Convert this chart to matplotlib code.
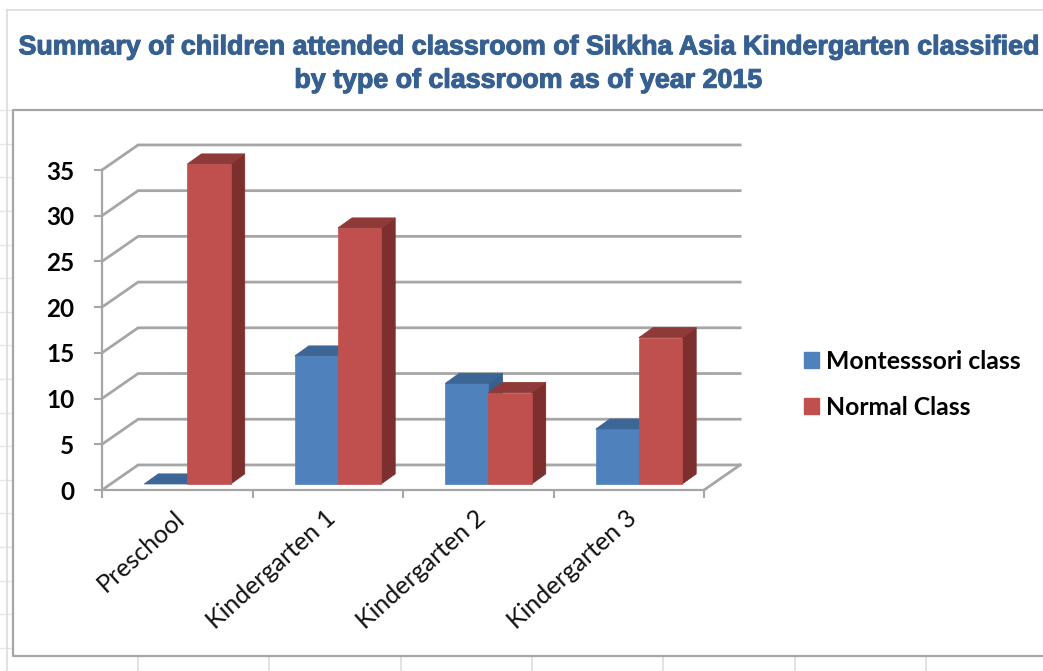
import matplotlib
matplotlib.use("Agg")
import matplotlib.pyplot as plt
import matplotlib.patheffects as pe
from matplotlib.patches import Polygon, Patch
from matplotlib.transforms import ScaledTranslation

categories = ["Preschool", "Kindergarten 1", "Kindergarten 2", "Kindergarten 3"]
montessori = [0, 14, 11, 6]
normal = [35, 28, 10, 16]
y_ticks = [0, 5, 10, 15, 20, 25, 30, 35]
title = ("Summary of children attended classroom of Sikkha Asia Kindergarten classified\n"
         "by type of classroom as of year 2015")

W, H = 1043, 671
GREY = "#a6a6a6"

fig = plt.figure(figsize=(W / 100, H / 100), dpi=100, facecolor="white")

# page furniture (screenshot frame + faint spreadsheet cells), in pixels
bg = fig.add_axes([0, 0, 1, 1])
bg.set_xlim(0, W)
bg.set_ylim(H, 0)
bg.axis("off")
for y in [110, 144, 177, 211, 245, 278, 312, 345, 379, 413, 446, 480, 513, 547, 581, 614, 648]:
    bg.plot([0, 13], [y, y], color="#e6e6e6", lw=1)
for x in [138, 269, 401, 532, 663, 795, 926]:
    bg.plot([x, x], [656, H], color="#dddddd", lw=1.2)
bg.plot([7, 7], [H, 10], color="#dcdcdc", lw=1.2)
bg.plot([7, W], [10, 10], color="#dcdcdc", lw=1.2)
bg.plot([W, 13, 13, W], [110, 110, 656, 656], color=GREY, lw=1.6)

# plot area = front plane of the 3D box
ax = fig.add_axes([102 / W, 1 - 490 / H, 602 / W, 320 / H])
ax.set_xlim(0, 4)
ax.set_ylim(0, 35)
ax.patch.set_alpha(0)

dx, dy = 0.24, 2.74      # depth of the box
bx, by = 0.0931, 1.1     # depth of a bar
off_x, off_y = 0.068, 0.66   # bars sit inside the box
bar_w = 0.287


def draw_bar(left, value, front, top, side, z):
    x0, x1 = left, left + bar_w
    y0, y1 = off_y, off_y + value
    if value > 0:
        ax.bar(x0, value, width=bar_w, bottom=y0, align="edge", color=front, edgecolor=front, lw=0.5,
               zorder=z + 0.2, clip_on=False)
        ax.add_patch(Polygon([(x1, y0), (x1 + bx, y0 + by), (x1 + bx, y1 + by), (x1, y1)],
                             fc=side, ec=side, lw=0.6, zorder=z + 0.1, clip_on=False))
    ax.add_patch(Polygon([(x0, y1), (x0 + bx, y1 + by), (x1 + bx, y1 + by), (x1, y1)],
                         fc=top, ec=top, lw=0.6, zorder=z + 0.3, clip_on=False))


# walls and floor
for v in y_ticks:
    ax.plot([0, dx, 4 + dx], [v, v + dy, v + dy], color=GREY, lw=2, zorder=1, clip_on=False, solid_joinstyle="miter")
ax.plot([4, 4 + dx], [0, dy], color=GREY, lw=2, zorder=1, clip_on=False)

for i in range(len(categories)):
    c = i + 0.5 + off_x
    draw_bar(c - bar_w, montessori[i], "#4f81bd", "#3c6696", "#37608f", 3 + i)
    draw_bar(c, normal[i], "#c0504d", "#8f3a38", "#7d2f2d", 3.5 + i)

for s in ["top", "right"]:
    ax.spines[s].set_visible(False)
for s in ["left", "bottom"]:
    ax.spines[s].set_color(GREY)
    ax.spines[s].set_linewidth(1.6)

ax.set_yticks(y_ticks)
ax.set_yticklabels(y_ticks, fontfamily="Lato", fontweight="bold", fontsize=17.5, color="black")
ax.tick_params(axis="y", length=6, width=1.5, color=GREY, pad=14)

ax.set_xticks(range(5))
ax.set_xticklabels([])
ax.tick_params(axis="x", which="major", length=6, width=1.5, color=GREY)
ax.set_xticks([i + 0.5 for i in range(4)], minor=True)
ax.set_xticklabels(categories, minor=True, rotation=42, ha="right", rotation_mode="anchor",
                   fontfamily="Lato", fontsize=18, color="#111111")
ax.tick_params(axis="x", which="minor", length=0, pad=12)
shift = ScaledTranslation(-2.5 / 72, 0, fig.dpi_scale_trans)
for lab in ax.get_xticklabels(minor=True):
    lab.set_transform(lab.get_transform() + shift)

handles = [Patch(color="#4f81bd", label="Montesssori class"), Patch(color="#c0504d", label="Normal Class")]
fig.legend(handles=handles, loc="upper left", bbox_to_anchor=(794 / W, 1 - 340 / H), frameon=False,
           prop={"family": "Lato", "weight": "bold", "size": 17.8}, handlelength=0.62, handleheight=0.62,
           handletextpad=0.28, labelspacing=0.92, borderpad=0.4, borderaxespad=0)

fig.text(527.5 / W, 1 - 64 / H, title, ha="center", va="center", family="Liberation Sans", weight="bold",
         fontsize=19.3, color="#376092", linespacing=1.37,
         path_effects=[pe.withStroke(linewidth=0.8, foreground="#376092")])

fig.savefig("out.png", dpi=100)
